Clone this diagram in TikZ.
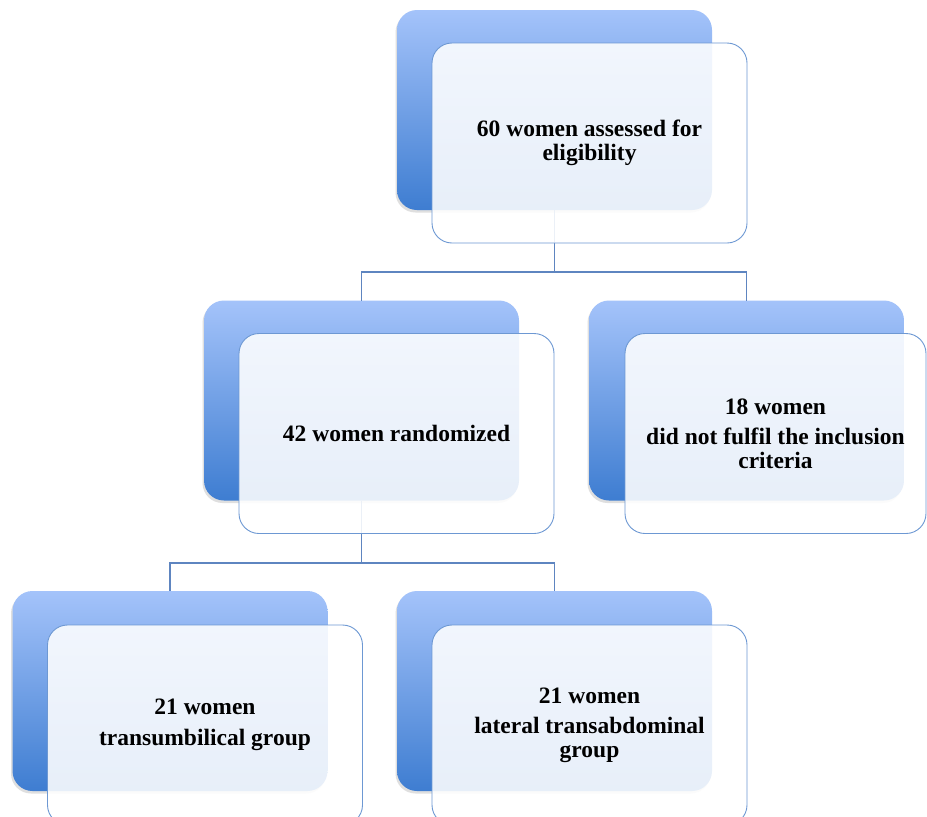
\documentclass[tikz,border=0pt]{standalone}
\usepackage{fontspec}
\setmainfont{Liberation Serif}
\usetikzlibrary{shadows}

\definecolor{boxtop}{HTML}{A4C3FA}
\definecolor{boxbottom}{HTML}{3E7DD1}
\definecolor{boxline}{HTML}{6D98D3}
\definecolor{linkline}{HTML}{5E85C0}

\tikzset{
  backbox/.style={rectangle, rounded corners=20pt, minimum width=315pt,
    minimum height=200pt, outer sep=0pt, top color=boxtop, bottom color=boxbottom,
    draw=none, drop shadow={shadow xshift=-1.5pt, shadow yshift=-2.5pt, opacity=0.25}},
  frontbox/.style={rectangle, rounded corners=20pt, minimum width=315pt,
    minimum height=200pt, outer sep=0pt, draw=boxline, line width=0.9pt,
    fill=white, fill opacity=0.88, text opacity=1, align=center,
    font=\fontsize{23.5}{23.5}\selectfont\bfseries},
  link/.style={draw=linkline, line width=1.1pt}
}

\begin{document}
\begin{tikzpicture}[x=1pt, y=-1pt]
      \useasboundingbox (0, 0) rectangle (927, 817);
      \fill [white] (0, 0) rectangle (927, 817);
      \clip (0, 0) rectangle (927, 817);

      % back cards
      \draw (554.5, 110) node [backbox] (topback) {};
      \draw (361.5, 400.5) node [backbox] (leftback) {};
      \draw (746.5, 400.5) node [backbox] (rightback) {};
      \draw (170, 691) node [backbox] (armaback) {};
      \draw (554.5, 691) node [backbox] (armbback) {};

      % links
      \draw [link] (topback.south) -- ++(0, 62) -| (leftback.north);
      \draw [link] (topback.south) -- ++(0, 62) -| (rightback.north);
      \draw [link] (leftback.south) -- ++(0, 62.5) -| (armaback.north);
      \draw [link] (leftback.south) -- ++(0, 62.5) -| (armbback.north);

      % front cards
      \draw (589.5, 143) node [frontbox] (assessed) {60 women assessed for\\eligibility};
      \draw (396.5, 433.5) node [frontbox] (randomized) {42 women randomized};
      \draw (775.5, 433.5) node [frontbox, minimum width=301pt] (excluded)
        {18 women\\[7pt]did not fulfil the inclusion\\criteria};
      \draw (205, 725) node [frontbox] (arma) {21 women\\[7pt]transumbilical group};
      \draw (589.5, 725) node [frontbox] (armb)
        {21 women\\[7pt]lateral transabdominal\\group};
\end{tikzpicture}
\end{document}
